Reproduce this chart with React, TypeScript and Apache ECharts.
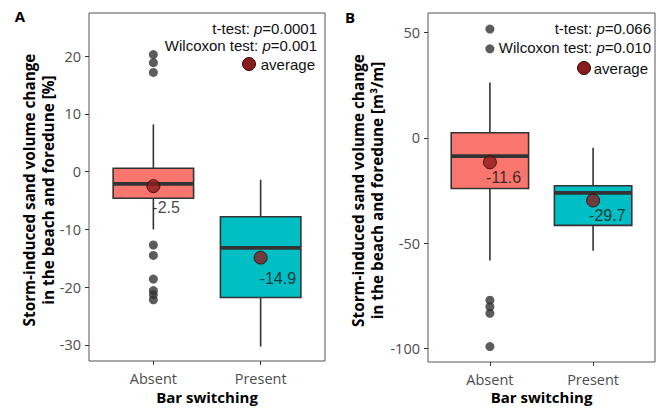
import React, { useEffect, useRef } from "react";
import * as echarts from "echarts";

// ---------- data ----------
const categories = ["Absent", "Present"];

// Panel A: [min whisker, Q1, median, Q3, max whisker] per category (%)
const boxA = [
  [-10.0, -4.6, -2.1, 0.6, 8.2],
  [-30.3, -21.8, -13.2, -7.8, -1.4],
];
const meanA = [-2.5, -14.9];
const outliersAAbsent = [20.3, 18.9, 17.2, -12.7, -14.5, -18.6, -20.6, -21.3, -22.2];
const outliersAPresent: number[] = [];
const ticksA = [-30, -20, -10, 0, 10, 20];
const statsA = ["0.0001", "0.001"];

// Panel B: [min whisker, Q1, median, Q3, max whisker] per category (m3/m)
const boxB = [
  [-58.2, -24.0, -8.7, 2.4, 26.2],
  [-53.5, -41.5, -26.1, -22.7, -4.7],
];
const meanB = [-11.6, -29.7];
const outliersBAbsent = [51.6, 42.2, -77.0, -80.1, -83.2, -99.0];
const outliersBPresent: number[] = [];
const ticksB = [-100, -50, 0, 50];
const statsB = ["0.066", "0.010"];

const yTitleLine1 = "Storm-induced sand volume change";
const yTitleA = "in the beach and foredune [%]";
const yTitleB = "in the beach and foredune [m³/m]";
const xTitle = "Bar switching";

// ---------- styles ----------
const FILLS = ["#F8766D", "#00BFC4"];
const DARK = "#333333";
const MEAN_FILL = "#8B1C1C";
const SANS = "'Open Sans', 'Noto Sans', sans-serif";
const ARIAL = "'Liberation Sans', Arial, sans-serif";

type Panel = {
  box: number[][];
  mean: number[];
  outAbsent: number[];
  outPresent: number[];
  ticks: number[];
  stats: string[];
  yMin: number;
  yMax: number;
  grid: { left: number; right: number; top: number; bottom: number };
  letter: string;
  letterPos: [number, number];
  yTitle2: string;
  yTitleX: [number, number];
  statRight: number;
  statY: [number, number, number];
  avgRight: number;
  avgCircleX: number;
  labelOffset: [number, number];
};

const panels: Panel[] = [
  {
    box: boxA,
    mean: meanA,
    outAbsent: outliersAAbsent,
    outPresent: outliersAPresent,
    ticks: ticksA,
    stats: statsA,
    yMin: -32.8,
    yMax: 27.5,
    grid: { left: 89, right: 334, top: 13, bottom: 47 },
    letter: "A",
    letterPos: [20, 16],
    yTitle2: yTitleA,
    yTitleX: [29, 48],
    statRight: 317,
    statY: [28, 45.5, 64],
    avgRight: 315,
    avgCircleX: 249,
    labelOffset: [-1, 21],
  },
  {
    box: boxB,
    mean: meanB,
    outAbsent: outliersBAbsent,
    outPresent: outliersBPresent,
    ticks: ticksB,
    stats: statsB,
    yMin: -106.3,
    yMax: 59.2,
    grid: { left: 428, right: 4, top: 13, bottom: 46 },
    letter: "B",
    letterPos: [350, 17],
    yTitle2: yTitleB,
    yTitleX: [358, 377],
    statRight: 651,
    statY: [28, 47, 68],
    avgRight: 648,
    avgCircleX: 584,
    labelOffset: [-4, 15],
  },
];

function buildOption() {
  const grid: any[] = [];
  const xAxis: any[] = [];
  const yAxis: any[] = [];
  const series: any[] = [];
  const graphic: any[] = [];

  panels.forEach((p, pi) => {
    grid.push({
      left: p.grid.left,
      right: p.grid.right,
      top: p.grid.top,
      bottom: p.grid.bottom,
      show: true,
      borderColor: "#555555",
      borderWidth: 1,
      backgroundColor: "transparent",
    });
    xAxis.push({
      type: "value",
      gridIndex: pi,
      position: "bottom",
      min: 0.4,
      max: 2.6,
      axisLine: { show: false, onZero: false },
      splitLine: { show: false },
      axisTick: {
        show: true,
        length: 4,
        customValues: [1, 2],
        lineStyle: { color: DARK, width: 1 },
      },
      axisLabel: {
        customValues: [1, 2],
        formatter: (v: number) => categories[Math.round(v) - 1] ?? "",
        color: "#4d4d4d",
        fontFamily: SANS,
        fontSize: 14.5,
        margin: 10,
      },
    });
    yAxis.push({
      type: "value",
      gridIndex: pi,
      position: "left",
      min: p.yMin,
      max: p.yMax,
      axisLine: { show: false, onZero: false },
      splitLine: { show: false },
      axisTick: {
        show: true,
        length: 4,
        customValues: p.ticks,
        lineStyle: { color: DARK, width: 1 },
      },
      axisLabel: {
        customValues: p.ticks,
        color: "#4d4d4d",
        fontFamily: SANS,
        fontSize: 14.5,
        margin: 8,
      },
    });

    // one custom series per box: whiskers, box and median
    p.box.forEach((b, bi) => {
      series.push({
        type: "custom",
        xAxisIndex: pi,
        yAxisIndex: pi,
        encode: { x: 0, y: [1, 2, 3, 4, 5] },
        data: [[bi + 1, ...b]],
        renderItem: (_params: any, api: any) => {
          const x = api.value(0);
          const w = api.size([0.75, 0])[0];
          const pMin = api.coord([x, api.value(1)]);
          const pQ1 = api.coord([x, api.value(2)]);
          const pMed = api.coord([x, api.value(3)]);
          const pQ3 = api.coord([x, api.value(4)]);
          const pMax = api.coord([x, api.value(5)]);
          const cx = pMed[0];
          return {
            type: "group",
            children: [
              {
                type: "polyline",
                shape: { points: [[cx, pQ3[1]], [cx, pMax[1]]] },
                style: { stroke: DARK, lineWidth: 1.6, fill: "none" },
              },
              {
                type: "polyline",
                shape: { points: [[cx, pQ1[1]], [cx, pMin[1]]] },
                style: { stroke: DARK, lineWidth: 1.6, fill: "none" },
              },
              {
                type: "rect",
                shape: { x: cx - w / 2, y: pQ3[1], width: w, height: pQ1[1] - pQ3[1] },
                style: { fill: FILLS[bi], stroke: DARK, lineWidth: 1.6 },
              },
              {
                type: "polyline",
                shape: { points: [[cx - w / 2, pMed[1]], [cx + w / 2, pMed[1]]] },
                style: { stroke: DARK, lineWidth: 3.8, fill: "none" },
              },
            ],
          };
        },
        z: 2,
      });
    });

    // outliers
    const outData = [
      ...p.outAbsent.map((v) => [1, v]),
      ...p.outPresent.map((v) => [2, v]),
    ];
    series.push({
      type: "scatter",
      xAxisIndex: pi,
      yAxisIndex: pi,
      data: outData,
      symbol: "circle",
      symbolSize: 9,
      itemStyle: { color: DARK },
      z: 3,
    });

    // means
    series.push({
      type: "scatter",
      xAxisIndex: pi,
      yAxisIndex: pi,
      data: p.mean.map((v, i) => [i + 1, v]),
      symbol: "circle",
      symbolSize: 13,
      itemStyle: { color: MEAN_FILL, borderColor: "#2a0505", borderWidth: 1 },
      label: {
        show: true,
        position: "inside",
        align: "left",
        verticalAlign: "middle",
        offset: p.labelOffset,
        formatter: (d: any) => d.value[1].toFixed(1),
        color: "#111111",
        fontFamily: ARIAL,
        fontSize: 16,
      },
      z: 4,
    });

    // panel letter
    graphic.push({
      type: "text",
      x: p.letterPos[0],
      y: p.letterPos[1],
      style: {
        text: p.letter,
        fontFamily: SANS,
        fontWeight: "bold",
        fontSize: 15,
        fill: "#000",
        align: "center",
        verticalAlign: "middle",
      },
    });
    // y title (two lines)
    const plotMidY = p.grid.top + (408 - p.grid.top - p.grid.bottom) / 2;
    [yTitleLine1, p.yTitle2].forEach((t, li) => {
      graphic.push({
        type: "text",
        x: p.yTitleX[li],
        y: plotMidY + 3,
        rotation: Math.PI / 2,
        style: {
          text: t,
          fontFamily: SANS,
          fontWeight: "bold",
          fontSize: 15.3,
          fill: "#000",
          align: "center",
          verticalAlign: "middle",
        },
      });
    });
    // x title
    const plotMidX = p.grid.left + (659 - p.grid.left - p.grid.right) / 2;
    graphic.push({
      type: "text",
      x: plotMidX,
      y: 396.5,
      style: {
        text: xTitle,
        fontFamily: SANS,
        fontWeight: "bold",
        fontSize: 15,
        fill: "#000",
        align: "center",
        verticalAlign: "middle",
      },
    });
    // stats annotation
    const rich = {
      n: { fontFamily: ARIAL, fontSize: 15, fill: "#111" },
      i: { fontFamily: ARIAL, fontSize: 15, fontStyle: "italic", fill: "#111" },
    };
    graphic.push({
      type: "text",
      x: p.statRight,
      y: p.statY[0],
      style: {
        text: `{n|t-test: }{i|p}{n|=${p.stats[0]}}`,
        rich,
        align: "right",
        verticalAlign: "middle",
      },
    });
    graphic.push({
      type: "text",
      x: p.statRight,
      y: p.statY[1],
      style: {
        text: `{n|Wilcoxon test: }{i|p}{n|=${p.stats[1]}}`,
        rich,
        align: "right",
        verticalAlign: "middle",
      },
    });
    graphic.push({
      type: "circle",
      shape: { cx: p.avgCircleX, cy: p.statY[2], r: 6.5 },
      style: { fill: MEAN_FILL, stroke: "#2a0505", lineWidth: 1 },
    });
    graphic.push({
      type: "text",
      x: p.avgRight,
      y: p.statY[2],
      style: {
        text: "average",
        fontFamily: ARIAL,
        fontSize: 15,
        fill: "#111",
        align: "right",
        verticalAlign: "middle",
      },
    });
  });

  return {
    animation: false,
    backgroundColor: "#ffffff",
    grid,
    xAxis,
    yAxis,
    series,
    graphic,
  };
}

export default function App() {
  const ref = useRef<HTMLDivElement>(null);
  useEffect(() => {
    document.body.style.margin = "0";
    if (!ref.current) return;
    const chart = echarts.init(ref.current, undefined, { renderer: "svg" });
    chart.setOption(buildOption() as any);
    return () => chart.dispose();
  }, []);
  return (
    <div
      ref={ref}
      style={{ position: "absolute", left: 0, top: 0, width: 659, height: 408 }}
    />
  );
}
